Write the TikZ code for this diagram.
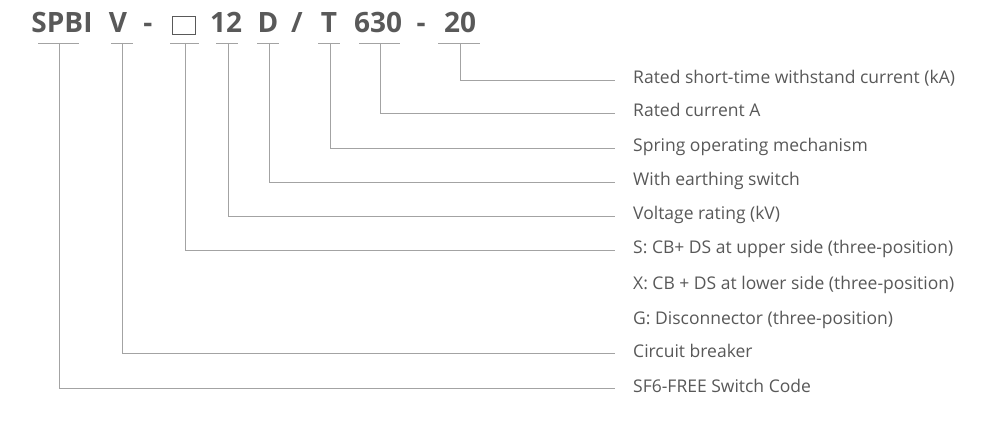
\documentclass[tikz,border=0pt]{standalone}
\usepackage{fontspec}
\setmainfont{Open Sans}
\usetikzlibrary{positioning}
\definecolor{codegray}{HTML}{595959}
\definecolor{textgray}{HTML}{585858}
\definecolor{linegray}{HTML}{A3A3A3}

\begin{document}
\begin{tikzpicture}[x=1pt,y=-1pt,
    code/.style={font=\fontsize{28}{30}\selectfont\bfseries,text=codegray,inner sep=0pt,anchor=base},
    legend/.style={font=\fontsize{17.5}{20}\selectfont,text=textgray,anchor=west,inner sep=0pt,text height=12pt,text depth=4pt},
    tick/.style={draw=linegray,line width=0.8pt}]
      \useasboundingbox (0,0) rectangle (1000,430);
      % the type code
      \node[code] (spbi) at (62,33) {SPBI};
      \node[code] (v) at (118,33) {V};
      \node[code] (dash1) at (148,33) {-};
      \node[draw=codegray,line width=1pt,minimum width=23pt,minimum height=18pt,inner sep=0pt] (box) at (184,26) {};
      \node[code] (twelve) at (226,33) {12};
      \node[code] (d) at (268,33) {D};
      \node[code] (slash) at (297,33) {/};
      \node[code] (t) at (329,33) {T};
      \node[code] (curr) at (378,33) {630};
      \node[code] (dash2) at (421,33) {-};
      \node[code] (twenty) at (460,33) {20};
      % underlines
      \draw[tick] (38,43) -- (79,43);   \coordinate (u1) at (59,43);
      \draw[tick] (111,43) -- (133,43); \coordinate (u2) at (122,43);
      \draw[tick] (170,43) -- (199,43); \coordinate (u3) at (185,43);
      \draw[tick] (216,43) -- (238,43); \coordinate (u4) at (228,43);
      \draw[tick] (257,43) -- (279,43); \coordinate (u5) at (269,43);
      \draw[tick] (318,43) -- (340,43); \coordinate (u6) at (330,43);
      \draw[tick] (359,43) -- (400,43); \coordinate (u7) at (380,43);
      \draw[tick] (438,43) -- (480,43); \coordinate (u8) at (460,43);
      % meanings
      \node[legend] (l1) at (633,80) {Rated short-time withstand current (kA)};
      \node[legend] (l2) at (633,113) {Rated current A};
      \node[legend] (l3) at (633,148) {Spring operating mechanism};
      \node[legend] (l4) at (633,182) {With earthing switch};
      \node[legend] (l5) at (633,216) {Voltage rating (kV)};
      \node[legend] (l6) at (633,250) {S: CB+ DS at upper side (three-position)};
      \node[legend] (l7) at (633,285) {X: CB + DS at lower side (three-position)};
      \node[legend] (l8) at (633,320) {G: Disconnector (three-position)};
      \node[legend] (l9) at (633,353) {Circuit breaker};
      \node[legend] (l10) at (633,388) {SF6-FREE Switch Code};
      % leader lines
      \draw[tick] (u8) |- ([xshift=-18pt]l1.west);
      \draw[tick] (u7) |- ([xshift=-18pt]l2.west);
      \draw[tick] (u6) |- ([xshift=-18pt]l3.west);
      \draw[tick] (u5) |- ([xshift=-18pt]l4.west);
      \draw[tick] (u4) |- ([xshift=-18pt]l5.west);
      \draw[tick] (u3) |- ([xshift=-18pt]l6.west);
      \draw[tick] (u2) |- ([xshift=-18pt]l9.west);
      \draw[tick] (u1) |- ([xshift=-18pt]l10.west);
\end{tikzpicture}
\end{document}
